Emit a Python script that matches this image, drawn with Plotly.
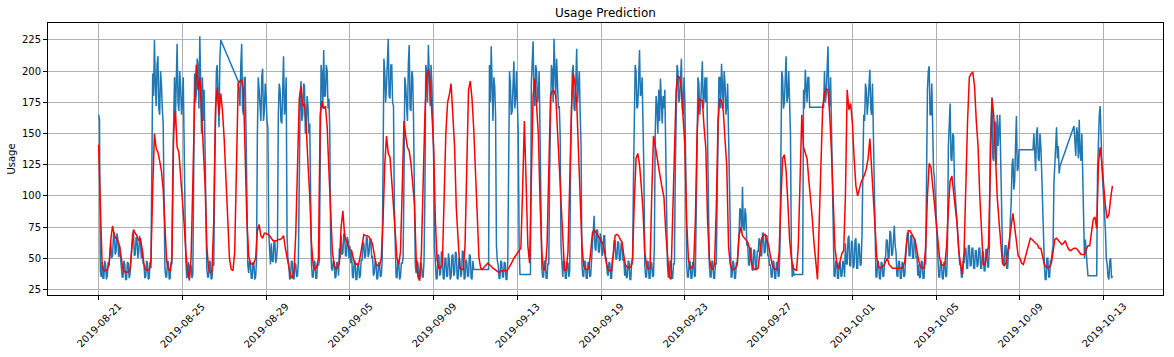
import plotly.graph_objects as go

# ---- tick labels (one label every 96 hourly steps) ----
tick_labels = ["2019-08-21", "2019-08-25", "2019-08-29", "2019-09-05", "2019-09-09",
               "2019-09-13", "2019-09-19", "2019-09-23", "2019-09-27", "2019-10-01",
               "2019-10-05", "2019-10-09", "2019-10-13"]
tick_hours = [0, 96, 192, 288, 384, 480, 576, 672, 768, 864, 960, 1056, 1152]
y_ticks = [25, 50, 75, 100, 125, 150, 175, 200, 225]

N = None  # missing readings (gaps bridged by a straight line)

# ---- actual usage (blue), hourly, one day (24 values) per line ----
actual_usage = [
    165, 162, 40, 35, 47, 34, 34, 48, 45, 33, 36, 47, 44, 56, 62, 50, 52, 68, 71, 53, 55, 70, 66, 51,
    60, 52, 46, 35, 35, 48, 45, 33, 33, 47, 46, 34, 37, 50, 58, 70, 70, 52, 53, 67, 66, 50, 55, 68,
    62, 50, 58, 46, 45, 34, 35, 48, 46, 33, 34, 47, 42, 120, 198, 180, 225, 190, 172, 205, 212, 170, 165, 200,
    190, 170, 158, 100, 42, 35, 35, 48, 47, 33, 34, 46, 45, 120, 178, 195, 160, 190, 222, 175, 168, 200, 188, 165,
    175, 195, 158, 90, 48, 34, 36, 47, 32, 45, 44, 34, 37, 110, 198, 175, 182, 210, 205, 170, 228, 190, 150, 195,
    160, 185, 140, 80, 42, 35, 35, 48, 47, 33, 34, 46, 44, 120, 175, 200, 205, 165, 155, 210, 225, N, N, N,
    N, N, N, N, N, N, N, N, N, N, N, N, N, N, N, N, 192, 175, 172, 205, 222, 170, 165, 195,
    195, 150, 60, 45, 38, 48, 46, 34, 34, 47, 45, 33, 35, 48, 150, 195, 185, 165, 160, 195, 202, 160, 168, 190,
    180, 160, 155, 70, 55, 45, 62, 48, 47, 63, 64, 46, 50, 60, 165, 190, 185, 160, 158, 200, 212, 165, 172, 195,
    68, 50, 45, 33, 34, 48, 47, 34, 33, 46, 45, 35, 36, 48, 120, 175, 192, 160, 165, 190, 188, 150, 155, 180,
    172, 150, 158, 80, 45, 35, 35, 48, 47, 34, 34, 46, 44, 48, 150, 205, 198, 170, 217, 180, 180, 205, 200, 170,
    178, 150, 58, 42, 40, 48, 47, 34, 35, 47, 46, 36, 58, 50, 68, 53, 54, 69, 70, 52, 52, 67, 64, 50,
    60, 46, 55, 35, 34, 48, 47, 33, 33, 46, 45, 34, 36, 49, 48, 63, 62, 50, 52, 67, 66, 51, 54, 65,
    65, 50, 52, 36, 38, 48, 46, 33, 34, 47, 45, 35, 36, 48, 120, 210, 200, 175, 188, 215, 226, 180, 178, 205,
    205, 175, 172, 90, 45, 35, 34, 48, 47, 33, 35, 46, 46, 50, 110, 195, 188, 165, 160, 205, 221, 170, 168, 200,
    195, 160, 60, 44, 38, 48, 46, 34, 33, 47, 45, 35, 35, 48, 100, 205, 200, 175, 221, 185, 172, 205, 190, 160,
    130, 60, 46, 33, 34, 53, 52, 36, 38, 55, 55, 34, 33, 50, 50, 35, 36, 54, 48, 33, 35, 52, 53, 36,
    38, 55, 54, 34, 33, 50, 49, 35, 37, 56, 55, 33, 34, 49, 47, 35, 36, 53, 52, 34, 33, 48, 41, 41,
    41, 41, 41, 41, 41, 41, 41, 41, 41, 41, 41, 41, 41, 41, 41, 41, 205, 175, 220, 185, 160, 195, 188, 165,
    60, 48, 45, 34, 34, 48, 47, 35, 35, 47, 46, 33, 33, 48, 140, 200, 190, 165, 168, 200, 208, 170, 178, 200,
    165, 150, 60, 37, 37, 37, 37, 37, 37, 37, 37, 37, 37, 37, 37, 37, 190, 210, 224, 180, 172, 205, 200, 175,
    180, 200, 155, 80, 42, 35, 35, 48, 47, 34, 34, 46, 45, 120, 178, 205, 200, 175, 226, 190, 178, 210, 195, 170,
    172, 150, 60, 45, 35, 48, 47, 34, 34, 47, 46, 35, 40, 130, 180, 200, 205, 170, 168, 205, 218, 175, 185, 200,
    165, 140, 45, 36, 35, 48, 47, 34, 34, 47, 46, 35, 36, 50, 62, 75, 84, 58, 56, 73, 72, 55, 55, 70,
    66, 52, 54, 68, 68, 50, 50, 38, 36, 47, 46, 34, 34, 50, 52, 64, 64, 49, 50, 63, 63, 48, 49, 62,
    62, 48, 50, 36, 45, 34, 35, 48, 47, 33, 33, 46, 45, 110, 180, 205, 200, 170, 172, 200, 217, 180, 182, 195,
    165, 120, 45, 35, 35, 48, 47, 34, 34, 47, 46, 35, 36, 60, 150, 180, 172, 150, 185, 160, 194, 165, 158, 180,
    170, 185, 140, 75, 45, 35, 35, 48, 47, 34, 34, 46, 45, 120, 170, 205, 200, 175, 178, 200, 210, 170, 165, 195,
    175, 120, 45, 35, 35, 48, 47, 34, 34, 47, 46, 35, 36, 90, 160, 195, 190, 165, 172, 200, 208, 170, 178, 195,
    175, 195, 150, 80, 45, 35, 35, 48, 47, 34, 34, 46, 45, 100, 165, 195, 195, 170, 206, 180, 170, 200, 190, 165,
    172, 190, 150, 80, 45, 35, 35, 48, 46, 34, 34, 47, 45, 55, 68, 90, 88, 70, 107, 75, 72, 90, 84, 60,
    62, 45, 44, 58, 58, 41, 40, 57, 56, 41, 42, 56, 55, 66, 64, 52, 52, 70, 70, 54, 55, 68, 68, 52,
    52, 44, 45, 35, 35, 48, 47, 34, 34, 47, 46, 35, 36, 60, 165, 200, 195, 170, 175, 205, 212, 175, 180, 200,
    170, 150, 60, 35, 45, 36, 37, 37, 37, 37, 37, 37, 37, 37, 37, 37, 185, 170, 201, 180, 175, 195, 195, 171,
    171, 171, 171, 171, 171, 171, 171, 171, 171, 171, 171, 171, 171, 171, 171, 171, 200, 175, 182, 205, 220, 180, 172, 195,
    150, 110, 45, 36, 35, 48, 47, 34, 34, 47, 46, 35, 36, 48, 45, 35, 62, 46, 45, 66, 68, 44, 44, 64,
    62, 42, 44, 64, 66, 42, 42, 62, 60, 44, 45, 68, 120, 165, 160, 190, 185, 165, 175, 195, 201, 170, 165, 190,
    150, 90, 50, 35, 35, 48, 47, 34, 33, 47, 46, 35, 36, 50, 50, 65, 64, 50, 50, 72, 70, 52, 53, 68,
    76, 60, 55, 36, 35, 48, 47, 34, 34, 47, 46, 35, 36, 50, 60, 70, 70, 52, 52, 68, 68, 50, 50, 66,
    64, 50, 52, 36, 45, 34, 35, 48, 47, 34, 34, 46, 45, 130, 185, 200, 204, 165, 165, 190, 150, 120, 115, 100,
    75, 60, 48, 35, 35, 48, 47, 34, 33, 47, 46, 35, 36, 60, 140, 165, 174, 130, 128, 150, 148, 110, 100, 85,
    80, 65, 60, 45, 45, 35, 35, 48, 46, 58, 58, 42, 42, 60, 60, 44, 44, 58, 58, 42, 42, 56, 56, 43,
    45, 58, 58, 42, 42, 55, 55, 40, 40, 57, 57, 43, 43, 60, 140, 170, 179, 130, 128, 160, 158, 125, 165, 140,
    150, 165, 128, 80, 56, 45, 45, 60, 60, 42, 42, 58, 58, 80, 95, 125, 130, 105, 112, 140, 164, 120, 122, 137,
    137, 137, 137, 137, 137, 137, 137, 137, 137, 137, 137, 137, 137, 137, 137, 137, 150, 125, 120, 150, 155, 130, 128, 150,
    140, 118, 90, 55, 45, 33, 33, 50, 50, 35, 35, 48, 48, 55, 60, 110, 130, 150, 155, 130, 140, 118, 124, N,
    N, N, N, N, N, N, N, N, N, N, N, N, N, N, 156, 135, 132, 155, 150, 130, 161, 135, 128, 150,
    120, 90, 50, 65, 58, 45, 36, 36, 36, 36, 36, 36, 36, 36, 36, 36, 36, 120, 150, 165, 172, 140, 125, 110,
    100, 85, 72, 50, 45, 35, 33, 48, 50, 34, 36,
]

# ---- predicted usage (red), one value every 2 hours, one day (12 values) per line ----
predicted_usage = [
    141, 85, 46, 40, 40, 41, 45, 65, 76, 68, 66, 64,
    60, 50, 41, 39, 39, 39, 41, 55, 73, 70, 68, 64,
    66, 57, 45, 41, 40, 41, 48, 105, 150, 138, 135, 128,
    120, 105, 75, 48, 41, 40, 50, 150, 168, 139, 135, 118,
    100, 78, 55, 40, 33, 50, 110, 175, 205, 185, 195, 170,
    140, 110, 60, 42, 38, 40, 80, 170, 187, 165, 182, 168,
    145, 110, 80, 50, 41, 40, 55, 120, 190, 192, 193, 185,
    135, 80, 52, 46, 45, 46, 50, 72, 77, 68, 66, 70,
    70, 69, 68, 66, 64, 64, 64, 65, 65, 66, 68, 58,
    50, 44, 36, 34, 40, 70, 125, 178, 188, 172, 174, 155,
    126, 100, 62, 44, 41, 43, 50, 165, 176, 170, 172, 155,
    120, 80, 55, 45, 41, 43, 46, 75, 88, 68, 63, 60,
    57, 56, 50, 46, 45, 45, 52, 62, 69, 68, 68, 67,
    65, 61, 52, 45, 44, 44, 50, 80, 125, 148, 134, 131,
    112, 91, 70, 50, 45, 55, 105, 160, 148, 139, 136, 126,
    110, 94, 50, 35, 32, 55, 110, 165, 196, 201, 192, 170,
    140, 80, 48, 42, 42, 45, 90, 150, 175, 181, 190, 165,
    140, 90, 60, 42, 41, 41, 60, 130, 185, 192, 178, 153,
    120, 82, 50, 42, 41, 43, 45, 46, 45, 43, 42, 41,
    40, 39, 39, 40, 40, 40, 40, 42, 44, 47, 50, 52,
    55, 56, 58, 105, 160, 110, 60, 46, 120, 180, 194, 168,
    150, 95, 55, 40, 42, 60, 120, 180, 184, 184, 180, 150,
    130, 100, 60, 40, 41, 55, 110, 170, 198, 190, 175, 135,
    110, 60, 44, 41, 41, 42, 55, 70, 73, 71, 69, 67,
    65, 62, 55, 46, 41, 40, 40, 55, 68, 69, 68, 65,
    63, 52, 44, 43, 42, 43, 50, 95, 130, 134, 125, 108,
    88, 55, 44, 41, 42, 100, 148, 140, 130, 122, 114, 106,
    99, 72, 50, 35, 33, 80, 140, 185, 196, 195, 185, 160,
    140, 80, 50, 41, 43, 45, 80, 150, 178, 177, 176, 155,
    138, 80, 50, 42, 41, 45, 90, 160, 178, 176, 168, 145,
    124, 60, 45, 41, 41, 42, 45, 68, 75, 68, 66, 64,
    63, 58, 47, 42, 41, 41, 42, 55, 66, 68, 69, 65,
    60, 52, 45, 42, 41, 41, 55, 95, 130, 133, 120, 95,
    65, 50, 42, 41, 40, 60, 120, 165, 139, 134, 130, 113,
    100, 82, 62, 44, 33, 80, 135, 172, 182, 186, 185, 165,
    135, 95, 58, 47, 41, 48, 54, 56, 100, 185, 169, 174,
    158, 130, 108, 100, 106, 111, 114, 117, 122, 130, 146, 125,
    100, 75, 50, 43, 42, 43, 44, 47, 50, 45, 43, 42,
    42, 42, 42, 42, 42, 43, 47, 62, 72, 72, 70, 67,
    64, 55, 48, 43, 42, 42, 60, 100, 126, 123, 108, 91,
    75, 59, 50, 45, 44, 45, 60, 90, 112, 116, 105, 90,
    78, 55, 45, 37, 55, 110, 160, 195, 198, 199, 188, 160,
    140, 100, 72, 45, 45, 52, 60, 120, 178, 165, 130, 99,
    80, 60, 46, 44, 46, 55, 65, 75, 86, 75, 62, 52,
    50, 46, 45, 50, 56, 62, 66, 65, 63, 62, 61, 58,
    58, 52, 45, 43, 42, 43, 46, 55, 65, 66, 64, 63,
    61, 62, 64, 60, 57, 56, 57, 58, 58, 57, 55, 53,
    53, 53, 57, 60, 60, 70, 81, 83, 74, 126, 139, 125,
    108, 92, 82, 85, 98, 108,
]

actual_hours = list(range(len(actual_usage)))
predicted_hours = list(range(0, 2 * len(predicted_usage), 2))

fig = go.Figure()
fig.add_trace(go.Scatter(x=actual_hours, y=actual_usage, mode="lines", name="Actual",
                         line=dict(color="#1f77b4", width=1.5), connectgaps=True))
fig.add_trace(go.Scatter(x=predicted_hours, y=predicted_usage, mode="lines", name="Predicted",
                         line=dict(color="#ff0000", width=1.5)))

axis_common = dict(showgrid=True, gridcolor="#b0b0b0", gridwidth=0.8,
                   showline=True, linecolor="black", linewidth=1, mirror=True,
                   ticks="outside", ticklen=4, tickwidth=1, tickcolor="black",
                   zeroline=False, automargin=False)

fig.update_xaxes(range=[-58, 1220], tickvals=tick_hours, showticklabels=False,
                 **axis_common)
fig.update_yaxes(range=[20.5, 238.6], tickvals=y_ticks,
                 ticktext=[str(v) for v in y_ticks],
                 title=dict(text="Usage", standoff=4, font=dict(size=10)),
                 **axis_common)

for h, lab in zip(tick_hours, tick_labels):
    fig.add_annotation(x=h, xref="x", y=0, yref="paper", text=lab,
                       showarrow=False, textangle=-45, xanchor="center",
                       yanchor="middle", yshift=-30,
                       font=dict(size=10, color="black", family="DejaVu Sans"))

fig.update_layout(
    width=1174, height=357,
    margin=dict(l=48, r=11, t=23, b=62, autoexpand=False),
    paper_bgcolor="white", plot_bgcolor="white",
    showlegend=False,
    font=dict(family="DejaVu Sans", size=10, color="black"),
    title=dict(text="Usage Prediction", x=0.5, xref="paper", xanchor="center",
               y=1 - 13 / 357, yref="container", yanchor="middle",
               font=dict(size=12, color="black")),
)

fig.write_html("out.html", config={"displayModeBar": False},
               post_script="document.body.style.margin='0px';")
